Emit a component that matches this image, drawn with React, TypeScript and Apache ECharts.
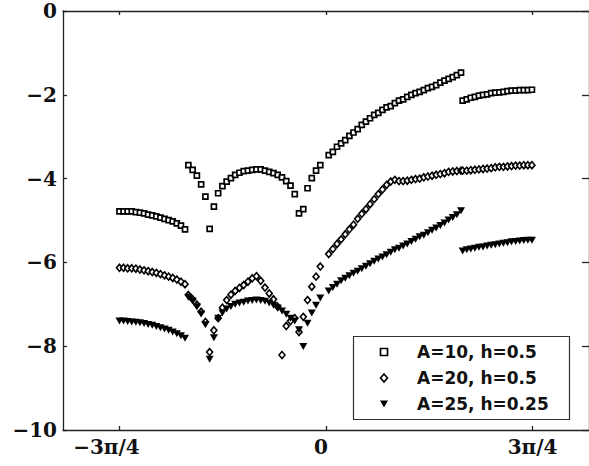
import React, { useEffect, useRef } from 'react';
import * as echarts from 'echarts';

// ---- data ----
const seriesNames = ['A=10, h=0.5', 'A=20, h=0.5', 'A=25, h=0.25'];

// sampled intervals (radians) shared by the three curves
const segmentStarts = [-2.356, -1.57, 0.031, 1.559];
const segmentEnds = [-1.608, -0.065, 1.54, 2.349];

const squaresA = [-4.78, -4.78, -4.78, -4.78, -4.8, -4.81, -4.83, -4.86, -4.88, -4.9, -4.93, -4.96, -4.99, -5.02, -5.07, -5.12, -5.21];
const squaresB = [-3.68, -3.79, -3.93, -4.14, -4.43, -5.2, -4.67, -4.35, -4.18, -4.07, -3.99, -3.91, -3.86, -3.82, -3.81, -3.79, -3.78, -3.78, -3.81, -3.84, -3.87, -3.91, -3.97, -4.06, -4.17, -4.37, -4.83, -4.73, -4.23, -3.99, -3.81, -3.68];
const squaresC = [-3.44, -3.36, -3.24, -3.16, -3.08, -2.98, -2.9, -2.82, -2.72, -2.64, -2.56, -2.48, -2.43, -2.36, -2.3, -2.27, -2.2, -2.14, -2.11, -2.05, -2.0, -1.96, -1.93, -1.89, -1.84, -1.81, -1.77, -1.71, -1.66, -1.62, -1.58, -1.53, -1.47];
const squaresD = [-2.14, -2.11, -2.07, -2.05, -2.02, -2.0, -1.99, -1.96, -1.95, -1.94, -1.93, -1.91, -1.9, -1.9, -1.89, -1.89, -1.89, -1.88];

const diamondsA = [-6.13, -6.13, -6.14, -6.14, -6.15, -6.17, -6.19, -6.21, -6.23, -6.25, -6.28, -6.31, -6.34, -6.37, -6.41, -6.46, -6.52];
const diamondsB = [-6.78, -6.88, -7.01, -7.18, -7.42, -8.14, -7.62, -7.33, -7.08, -6.9, -6.77, -6.68, -6.61, -6.54, -6.46, -6.38, -6.33, -6.44, -6.6, -6.74, -6.88, -7.06, -8.21, -7.52, -7.4, -7.33, -7.66, -7.3, -6.9, -6.58, -6.34, -6.1];
const diamondsC = [-5.8, -5.68, -5.56, -5.45, -5.33, -5.21, -5.1, -4.96, -4.84, -4.73, -4.61, -4.49, -4.37, -4.26, -4.15, -4.07, -4.03, -4.06, -4.06, -4.05, -4.03, -4.01, -4.0, -3.97, -3.95, -3.93, -3.91, -3.89, -3.87, -3.84, -3.83, -3.82, -3.81];
const diamondsD = [-3.81, -3.81, -3.8, -3.79, -3.78, -3.77, -3.76, -3.75, -3.73, -3.72, -3.72, -3.71, -3.7, -3.69, -3.69, -3.68, -3.68, -3.68];

const trianglesA = [-7.4, -7.4, -7.41, -7.42, -7.43, -7.44, -7.46, -7.48, -7.5, -7.53, -7.56, -7.59, -7.62, -7.66, -7.7, -7.75, -7.81];
const trianglesB = [-6.83, -6.92, -7.06, -7.23, -7.49, -8.31, -7.8, -7.33, -7.21, -7.11, -7.05, -7.0, -6.97, -6.95, -6.92, -6.91, -6.9, -6.91, -6.93, -6.97, -7.02, -7.09, -7.16, -7.24, -7.33, -7.4, -7.61, -8.01, -7.45, -7.21, -7.02, -6.85];
const trianglesC = [-6.68, -6.6, -6.52, -6.44, -6.38, -6.32, -6.26, -6.21, -6.15, -6.09, -6.03, -5.97, -5.92, -5.87, -5.82, -5.76, -5.7, -5.66, -5.61, -5.56, -5.5, -5.45, -5.39, -5.35, -5.29, -5.23, -5.18, -5.12, -5.06, -4.99, -4.93, -4.86, -4.77];
const trianglesD = [-5.73, -5.7, -5.68, -5.66, -5.64, -5.63, -5.61, -5.59, -5.58, -5.56, -5.54, -5.53, -5.51, -5.5, -5.49, -5.48, -5.47, -5.47];

const xTickValues = [-3 * Math.PI / 4, 0, 3 * Math.PI / 4];
const xTickLabels = ['−3π/4', '0', '3π/4'];
const yTickLabels = ['−10', '−8', '−6', '−4', '−2', '0'];

function toPoints(segments: number[][]) {
  const pts: number[][] = [];
  segments.forEach((ys, s) => {
    const a = segmentStarts[s];
    const b = segmentEnds[s];
    ys.forEach((y, k) => {
      pts.push([a + (k * (b - a)) / (ys.length - 1), y]);
    });
  });
  return pts;
}

const TRI = 'path://M0,0L10,0L5,9Z';

export default function App() {
  const ref = useRef<HTMLDivElement>(null);
  useEffect(() => {
    if (!ref.current) return;
    const chart = echarts.init(ref.current, undefined, { renderer: 'svg' });
    const axisColor = '#222';
    const labelFont = {
      fontFamily: 'DejaVu Serif',
      fontWeight: 'bold' as const,
      fontSize: 20,
      color: '#111',
    };
    const xLabelOffsets = ['m', 'z', 'p'];

    // legend box drawn as graphic elements (frame, markers, texts)
    const legendLeft = 353.5;
    const legendTop = 336.5;
    const rowY = [352, 378, 404];
    const markX = 384;
    const textX = 417;
    const legendText = (name: string, y: number) => ({
      type: 'text',
      x: textX,
      y,
      z: 101,
      style: {
        text: name,
        fontFamily: 'DejaVu Sans',
        fontWeight: 'bold',
        fontSize: 17,
        fill: '#111',
        align: 'left',
        verticalAlign: 'middle',
      },
    });

    chart.setOption({
      animation: false,
      backgroundColor: '#fff',
      grid: { left: 63, top: 11, width: 530, height: 419, containLabel: false },
      graphic: [
        {
          type: 'rect',
          z: 100,
          shape: { x: legendLeft, y: legendTop, width: 216, height: 83 },
          style: { fill: '#fff', stroke: '#333', lineWidth: 1.2 },
        },
        {
          type: 'rect',
          z: 101,
          shape: { x: markX - 3.5, y: rowY[0] - 3.5, width: 7, height: 7 },
          style: { fill: '#fff', stroke: '#000', lineWidth: 1.7 },
        },
        {
          type: 'polygon',
          z: 101,
          shape: {
            points: [
              [markX, rowY[1] - 4],
              [markX + 3.5, rowY[1]],
              [markX, rowY[1] + 4],
              [markX - 3.5, rowY[1]],
            ],
          },
          style: { fill: '#fff', stroke: '#000', lineWidth: 1.6 },
        },
        {
          type: 'polygon',
          z: 101,
          shape: {
            points: [
              [markX - 4, rowY[2] - 3.5],
              [markX + 4, rowY[2] - 3.5],
              [markX, rowY[2] + 3.5],
            ],
          },
          style: { fill: '#000' },
        },
        legendText(seriesNames[0], rowY[0]),
        legendText(seriesNames[1], rowY[1]),
        legendText(seriesNames[2], rowY[2]),
      ],
      xAxis: [
        {
          type: 'value',
          min: -3,
          max: 3,
          position: 'bottom',
          axisLine: { show: true, onZero: false, lineStyle: { color: axisColor, width: 1.3 } },
          axisTick: { show: true, inside: true, length: 4, customValues: xTickValues, lineStyle: { color: axisColor, width: 1.3 } },
          axisLabel: {
            show: true,
            margin: 7,
            customValues: xTickValues,
            ...labelFont,
            formatter: (v: number) => {
              let idx = 0;
              xTickValues.forEach((t, i) => {
                if (Math.abs(t - v) < 1e-6) idx = i;
              });
              return '{' + xLabelOffsets[idx] + '|' + xTickLabels[idx] + '}';
            },
            rich: {
              m: { ...labelFont, padding: [0, 26, 0, 0] },
              z: { ...labelFont, padding: [0, 10, 0, 0] },
              p: { ...labelFont },
            },
          },
          splitLine: { show: false },
        },
        {
          type: 'value',
          min: -3,
          max: 3,
          position: 'top',
          axisLine: { show: true, onZero: false, lineStyle: { color: axisColor, width: 1.3 } },
          axisTick: { show: true, inside: true, length: 4, customValues: xTickValues, lineStyle: { color: axisColor, width: 1.3 } },
          axisLabel: { show: false },
          splitLine: { show: false },
        },
      ],
      yAxis: [
        {
          type: 'value',
          min: -10,
          max: 0,
          interval: 2,
          position: 'left',
          axisLine: { show: true, onZero: false, lineStyle: { color: axisColor, width: 1.3 } },
          axisTick: { show: true, inside: true, length: 4, lineStyle: { color: axisColor, width: 1.3 } },
          axisLabel: {
            margin: 6,
            ...labelFont,
            formatter: (v: number) => yTickLabels[Math.round((v + 10) / 2)],
          },
          splitLine: { show: false },
        },
        {
          type: 'value',
          min: -10,
          max: 0,
          interval: 2,
          position: 'right',
          axisLine: { show: true, onZero: false, lineStyle: { color: axisColor, width: 1.3 } },
          axisTick: { show: true, inside: true, length: 7, lineStyle: { color: axisColor, width: 1.3 } },
          axisLabel: { show: false },
          splitLine: { show: false },
        },
      ],
      series: [
        {
          name: seriesNames[0],
          type: 'scatter',
          xAxisIndex: 0,
          yAxisIndex: 0,
          symbol: 'rect',
          symbolSize: 5,
          itemStyle: { color: '#fff', borderColor: '#000', borderWidth: 1.7, opacity: 1 },
          data: toPoints([squaresA, squaresB, squaresC, squaresD]),
          silent: true,
        },
        {
          name: seriesNames[1],
          type: 'scatter',
          xAxisIndex: 0,
          yAxisIndex: 0,
          symbol: 'diamond',
          symbolSize: [6, 7],
          itemStyle: { color: '#fff', borderColor: '#000', borderWidth: 1.6, opacity: 1 },
          data: toPoints([diamondsA, diamondsB, diamondsC, diamondsD]),
          silent: true,
        },
        {
          name: seriesNames[2],
          type: 'scatter',
          xAxisIndex: 0,
          yAxisIndex: 0,
          symbol: TRI,
          symbolSize: [8, 7],
          itemStyle: { color: '#000', opacity: 1 },
          data: toPoints([trianglesA, trianglesB, trianglesC, trianglesD]),
          silent: true,
        },
      ],
    });
    return () => chart.dispose();
  }, []);
  return (
    <div
      ref={ref}
      style={{ position: 'absolute', left: 0, top: 0, width: 589, height: 466, background: '#fff' }}
    />
  );
}
